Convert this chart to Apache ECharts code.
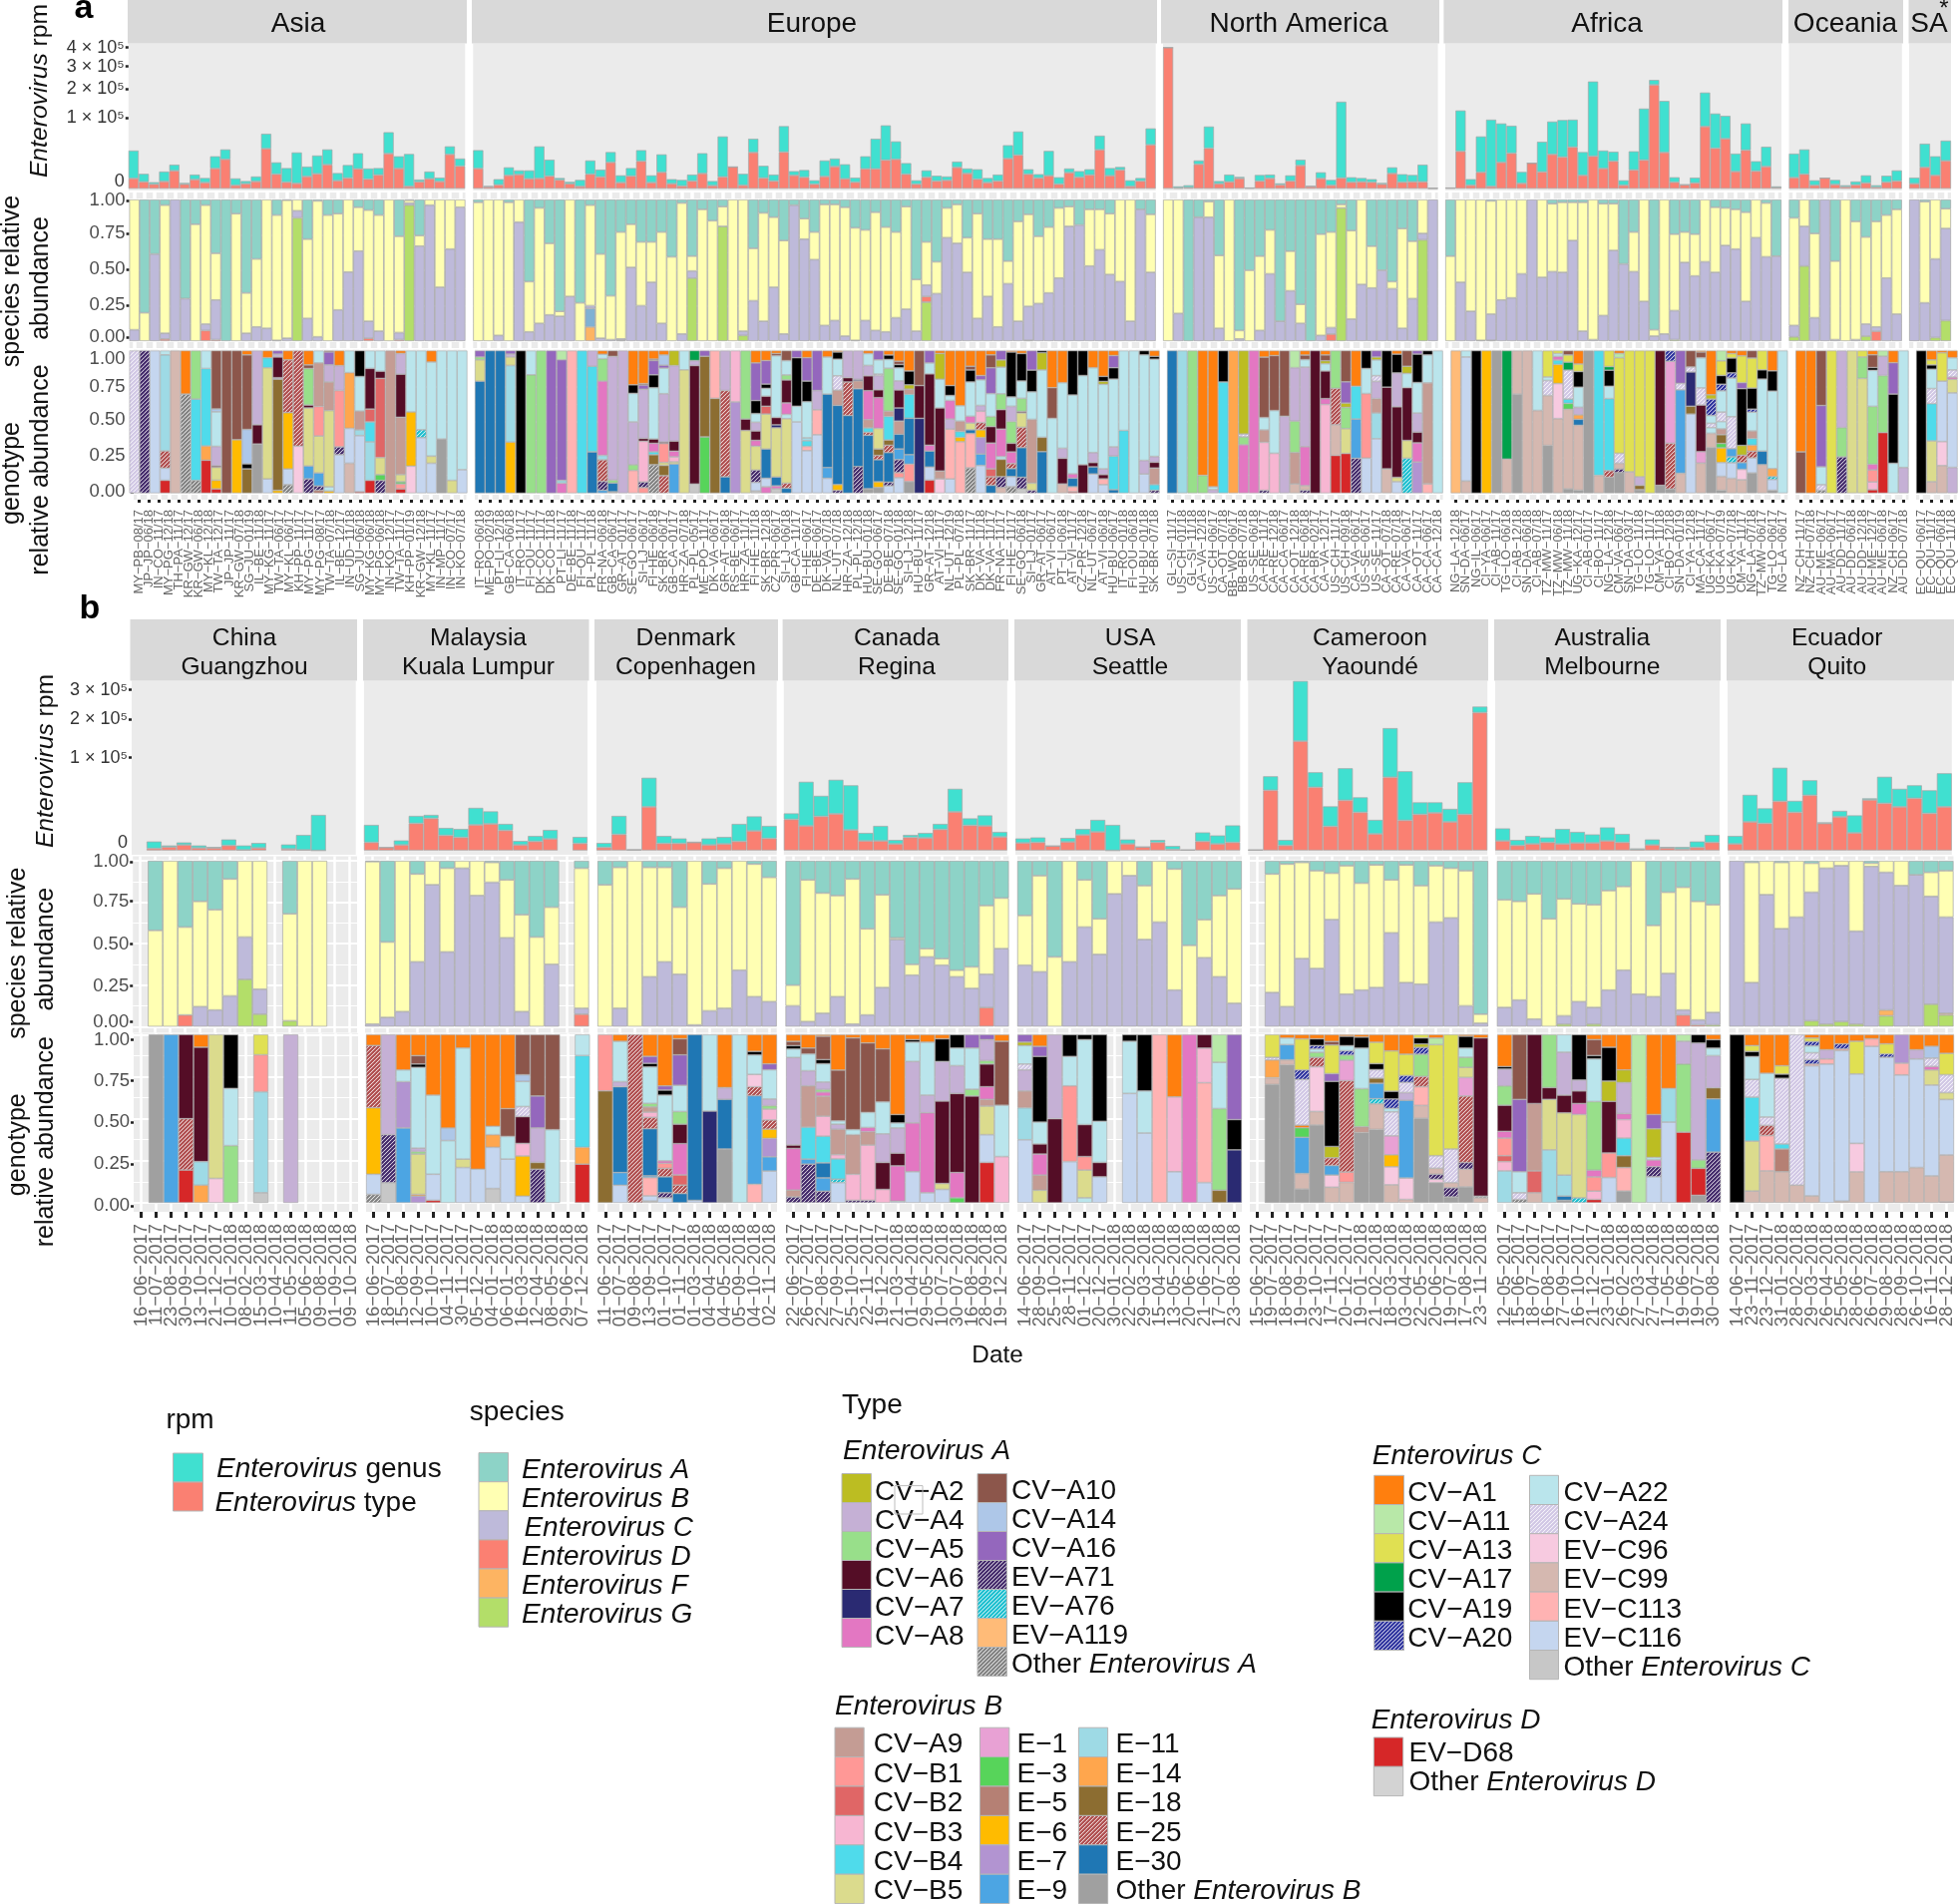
<!DOCTYPE html>
<html><head><meta charset="utf-8">
<style>html,body{margin:0;padding:0;background:#fff}#c{width:1963px;height:1909px}</style>
<script src="https://cdn.jsdelivr.net/npm/echarts@6/dist/echarts.min.js"></script>
</head><body><div id="c"></div>
<script>
/* ---------- rpm values: unit is rootRpm, 185 = 1e5 rpm on the square-root axis ---------- */
const asiaType=[27,18,12,19,47,12,24,16,53,77,9,13,19,105,38,17,14,32,39,63,21,28,52,25,36,92,53,6,18,26,19,90,59];
const asiaGenus=[73,21,5,26,16,3,13,12,32,26,18,7,13,39,31,37,81,26,48,40,20,34,41,28,18,56,32,85,6,19,10,21,20];
const europeType=[53,5,10,35,37,26,27,33,23,13,6,38,31,69,16,33,72,16,43,13,7,20,40,8,31,57,9,95,28,20,96,35,30,12,32,58,26,17,52,52,75,77,38,12,30,20,22,56,40,25,16,20,79,88,38,28,34,12,42,30,36,102,34,49,6,20,115];
const europeGenus=[48,2,15,21,11,22,84,43,5,5,17,36,19,27,19,21,29,19,47,12,16,17,53,12,106,0,30,36,32,17,68,11,19,10,42,21,38,12,33,79,91,47,29,10,18,14,10,15,13,26,12,17,35,62,13,10,65,18,11,16,15,37,20,8,16,8,43];
const naType=[370,2,3,64,106,13,18,27,2,20,27,10,20,61,6,27,9,28,17,18,17,12,40,17,18,18,1];
const naGenus=[0,4,6,10,57,7,19,4,0,16,10,4,15,15,1,16,14,200,13,10,8,3,16,21,18,45,1];
const africaType=[2,98,9,43,6,69,93,14,67,44,90,83,109,35,85,53,72,9,49,75,272,95,17,10,15,163,106,131,45,101,46,58,3];
const africaGenus=[0,107,16,94,175,102,72,30,0,79,86,97,72,61,196,47,25,13,49,135,13,135,13,1,14,89,91,60,47,70,26,52,3];
const oceaniaType=[29,38,9,28,11,5,10,15,4,17,20];
const oceaniaGenus=[63,65,13,0,12,4,9,20,5,17,28];
const saType=[13,56,35,73];
const saGenus=[16,62,50,53];
const chinaType=[null,4,7,11,5,5,10,1,5,null,3,1,0,null,null];
const chinaGenus=[null,14,3,5,5,2,12,9,10,null,9,30,71,null,null];
const malaysiaType=[16,6,11,54,64,30,26,51,53,40,11,18,23,null,14];
const malaysiaGenus=[35,0,9,15,7,15,17,34,25,13,8,11,18,null,13];
const denmarkType=[6,32,1,87,14,14,16,11,13,18,39,24];
const denmarkGenus=[9,37,1,58,15,10,1,13,14,35,29,25];
const canadaType=[62,49,68,73,41,19,19,13,26,25,42,77,50,49,27];
const canadaGenus=[12,88,41,68,89,16,30,8,5,10,11,46,14,21,10];
const usaType=[15,16,9,17,31,37,0,13,7,16,2,1,18,13,16];
const usaGenus=[9,10,0,8,12,24,51,9,0,5,7,0,18,17,34];
const cameroonType=[1,120,10,218,126,48,100,76,33,146,60,72,75,57,72,275];
const cameroonGenus=[0,28,11,120,30,40,64,30,28,98,98,24,21,26,64,12];
const australiaType=[19,10,13,16,13,15,15,19,16,2,11,5,3,6,16];
const australiaGenus=[25,11,16,10,30,22,17,27,17,2,11,2,4,12,15];
const ecuadorType=[13,57,54,98,76,110,54,67,35,101,94,87,104,74,87];
const ecuadorGenus=[16,54,30,67,23,30,2,12,35,3,53,36,26,46,67];

/* ---------- species relative abundance ---------- */
const asiaA=[0,.8,.385,.04,0,.7,.175,.04,.38,1,.1,.66,.42,0,.11,.005,0,.28,.01,.11,.1,0,.055,.075,.11,0,.26,.005,.255,0,0,0,0];
const asiaB=[.92,.2,0,.905,0,0,.825,.84,.33,0,.9,.285,.48,.91,.885,.975,.08,.56,.96,.89,.68,.513,.31,.785,.82,1,.68,.02,.075,.04,.62,.35,.055];
const asiaC=[.08,0,.615,.04,1,.3,0,.045,.28,0,0,.055,.1,.09,.005,.02,.05,.16,.03,0,.22,.487,.635,.12,.07,0,.05,.015,.67,.96,.38,.65,.945];
const asiaExtra={D:{3:.015,7:.075,8:.01,23:.02,26:.01},G:{16:.87,27:.96}};
const europeA=[.02,0,0,.02,0,.58,.06,.31,.79,0,.73,.04,.385,.68,.23,.175,.3,.3,.23,.405,.025,.4,.07,.15,.05,0,0,.345,.095,.125,.29,.04,.135,.23,.035,.035,.055,.2,.215,.09,.195,.23,.05,.565,.3,.44,.06,.035,.27,.1,.28,.28,.435,.155,.105,.26,.195,.06,.05,.18,.07,.07,.1,0,0,.07,.105];
const europeB=[.98,1,.96,.98,.16,.355,.815,.505,.035,.685,.27,.71,.595,.31,.755,.305,.45,.285,.645,.595,.925,.105,.93,.85,.14,1,.93,.37,.765,.495,.66,0,.145,.195,.855,.82,.91,.795,.64,.835,.74,.605,.725,.365,.305,.225,.21,.275,.245,.74,.405,.62,.16,.705,.65,.475,.465,.495,.14,0,.4,.285,.43,.58,.86,0,.41];
const europeC=[0,0,.04,0,.84,.065,.125,.185,.175,.315,0,.02,.02,.01,.01,.52,.25,.415,.125,0,.05,.05,0,0,0,0,.03,.285,.14,.38,.05,.96,.72,.575,.11,.145,.035,.005,.145,.075,.065,.165,.225,.07,.08,.335,.73,.69,.485,.16,.315,.1,.405,.14,.24,.265,.34,.445,.81,.82,.53,.645,.47,.42,.14,.93,.485];
const europeExtra={E:{11:.13},F:{11:.1,54:.005},D:{44:.04},G:{14:.005,21:.445,24:.81,26:.04,44:.275}};
const naA=[0,0,1,.125,.015,.395,0,.925,.5,.4,.215,.86,.365,.74,1,.245,.23,.035,.22,0,.33,.5,.58,.205,.295,0,0];
const naB=[1,.805,0,0,.11,.515,1,.06,.5,.525,.31,0,.28,.135,0,.715,.675,.025,.625,.6,.295,0,.05,.705,.405,.24,0];
const naC=[0,.195,0,.875,.875,.09,0,.015,0,.075,.475,.14,.355,.125,0,.04,.045,0,.155,.4,.375,.5,.37,.09,.3,.045,1];
const naExtra={D:{16:.05},G:{17:.94,25:.715}};
const africaA=[.4,0,0,0,.01,0,0,0,0,0,.03,.02,.02,.02,0,.03,.03,.455,.23,0,.92,0,.245,.23,.245,0,.055,.06,.07,.09,0,.025,.4];
const africaB=[.6,.585,.79,.995,.8,.71,.695,.525,0,.55,.48,.495,.27,.91,.99,.79,.33,0,.28,.72,.045,.95,.54,.215,.295,.44,.46,.265,.28,.63,.27,.38,0];
const africaC=[0,.415,.21,.005,.185,.29,.305,.475,1,.45,.49,.485,.71,.07,.01,.18,.64,.545,.49,.28,.035,.05,.205,.555,.46,.56,.485,.675,.65,.28,.73,.595,.6];
const africaExtra={G:{4:.005,22:.01}};
const oceaniaA=[.13,0,.24,0,.435,0,.155,.265,.155,.11,.07];
const oceaniaB=[.76,.19,.595,0,.555,1,.835,.615,.745,.445,.74];
const oceaniaC=[.08,.28,.165,1,.01,0,.01,.085,.03,.445,.19];
const oceaniaExtra={D:{8:.07},G:{0:.03,1:.53,7:.035}};
const saA=[0,.015,0,.065];
const saB=[0,.715,.42,.14];
const saC=[1,.27,.555,.65];
const saExtra={G:{2:.025,3:.145}};
const chinaA=[null,.42,0,.4,.245,.295,.11,0,0,null,.32,0,0,null,null];
const chinaB=[null,.58,1,.53,.635,.605,.705,.46,.775,null,.645,1,1,null,null];
const chinaC=[null,0,0,0,.12,.1,.185,.255,.15,null,0,0,0,null,null];
const chinaExtra={D:{3:.07},G:{7:.285,8:.075,10:.035}};
const malaysiaA=[.005,.49,0,.08,0,.045,0,0,.01,.115,.325,.46,.28,null,.045];
const malaysiaB=[.98,.455,.91,.53,.145,.505,.045,.21,.12,.35,.585,.54,.345,null,.845];
const malaysiaC=[.015,.055,.09,.39,.855,.45,.955,.79,.87,.535,.09,0,.375,null,.035];
const malaysiaExtra={D:{14:.075}};
const denmarkA=[.145,.04,0,.04,.04,.28,0,.14,.045,0,.02,.1];
const denmarkB=[.855,.85,1,.66,.57,.405,.99,.765,.845,.66,.8,.75];
const denmarkC=[0,.11,0,.3,.39,.315,.01,.095,.11,.34,.18,.15];
const canadaA=[.75,.115,.195,.21,.11,.41,.205,.465,.625,.53,.59,.66,.64,.27,.225];
const canadaB=[.125,.855,.725,.61,.875,.52,.56,.01,.065,.05,.04,.04,.13,.415,.305];
const canadaC=[.125,.03,.08,.18,.015,.07,.235,.525,.31,.42,.37,.3,.23,.2,.47];
const canadaExtra={D:{13:.115}};
const usaA=[.33,.09,.58,0,.115,.35,0,0,.15,0,.05,.51,.355,.21,.17];
const usaB=[.3,.58,.42,.61,.285,.215,.2,.09,.325,.37,.73,.49,.23,.49,.69];
const usaC=[.37,.33,0,.39,.6,.435,.8,.91,.525,.63,.22,0,.415,.3,.14];
const cameroonA=[null,.08,.02,.01,.06,.075,.03,.135,.025,.115,.025,.15,.03,.045,.06,.925];
const cameroonB=[null,.715,.86,.58,.59,.28,.775,.645,.74,.32,.71,.595,.34,.3,.815,.055];
const cameroonC=[null,.205,.12,.41,.35,.645,.195,.22,.235,.565,.265,.255,.63,.655,.125,.02];
const australiaA=[.235,.245,.2,.35,.23,.26,.265,.18,.155,0,.39,.19,.16,.245,.265];
const australiaB=[.65,.595,.755,.65,.705,.59,.62,.6,.505,.805,.43,.49,.74,.715,.65];
const australiaC=[.115,.16,.045,0,.05,.15,.1,.22,.34,.195,.18,.32,.03,.03,.075];
const australiaExtra={D:{12:.07,13:.01},G:{4:.015,6:.015,14:.01}};
const ecuadorA=[0,.01,0,.01,0,.015,0,0,0,.015,0,0,.085,.07,.06];
const ecuadorB=[0,.725,.205,.4,.34,.175,.045,.03,.425,.02,.07,.15,0,.145,.28];
const ecuadorC=[1,.265,.795,.59,.66,.775,.94,.94,.56,.965,.83,.85,.915,.65,.58];
const ecuadorExtra={F:{10:.035,14:.01},G:{5:.035,6:.015,7:.03,8:.015,10:.065,13:.135,14:.07}};

/* ---------- genotype relative abundance: per bar, types listed top to bottom ---------- */
const asiaGeno=['A24:1','71:1','C116:1','A22:.03 E11:.67 E25:.12 C116:.085 D68:.09','C99:1','A1:.305 OA:.695','A5:.34 B4:.57 OA:.09','A22:.125 B4:.54 E14:.1 D68:.23','A10:.405 A14:.02 A22:.24 A4:.135 A6:.01 B5:.09 E6:.06 D68:.03','A10:1','A10:.625 E6:.375','A1:.03 A10:.52 A14:.24 A19:.035 E18:.17','A4:.52 A6:.135 OB:.345','A1:.05 B4:.07 B5:.78 C116:.1','A16:.025 A4:.02 A6:.145 A4:.01 E18:.78 E6:.02','A1:.065 E25:.37 E6:.395 C116:.11 OA:.06','E25:.67 C96:.33','A1:.1 A10:.025 A5:.255 A6:.02 B5:.405 E9:.09 71:.1','A22:.085 A9:.3 B1:.205 B5:.255 E9:.09 71:.03 E5:.02','A10:.01 A16:.09 A4:.12 A9:.2 B5:.535 A22:.03 E6:.015','A1:.105 A4:.175 B1:.395 71:.055 C116:.27','A22:.155 E14:.39 C116:.245 C99:.21','A19:.18 A22:.24 A9:.13 E11:.04 C116:.39 D68:.01','A22:.125 A6:.285 B2:.09 B4:.14 E11:.27 D68:.09','A22:.145 A6:.05 B2:.555 B5:.12 E3:.04 71:.09','A9:1','A1:.02 A4:.145 A6:.3 A9:.4 B5:.05 E3:.015 B1:.035 D68:.03','A22:.43 E6:.38 C96:.19','A22:.555 76:.055 C116:.39','A1:.08 A22:.66 B5:.05 C116:.21','A22:.62 OB:.38','A22:.91 B5:.09','A22:.835 C116:.165'];
const europeGeno=['A16:.045 A5:.02 B5:.15 E30:.785','E30:1','E30:1','A16:.025 A4:.02 B5:.06 E11:.54 E6:.36','A19:1','A22:.17 A5:.83','A5:1','A16:1','A11:.065 A16:.845 E11:.02 A8:.07','C113:1','B4:1','A4:.11 B4:.6 E30:.29','A1:.025 A22:.03 A5:.15 A8:.5 E11:.03 E25:.145 71:.06 E9:.02','A10:.04 A4:.85 A5:.02 E30:.06 OB:.01','A4:1','A1:.24 A19:.06 A22:.2 A4:.3 A5:.04 C113:.16','A1:.235 A10:.01 A16:.03 A4:.35 A6:.02 B3:.29 71:.04 B1:.04','A1:.06 A10:.01 A16:.1 A19:.09 A22:.36 A6:.03 A8:.06 B4:.02 E18:.07 OA:.2',
'A1:.03 A14:.07 A16:.02 A22:.175 A4:.33 A6:.01 B1:.13 B5:.02 E18:.07 E25:.12','A2:.105 A4:.53 A6:.07 A8:.04 B3:.035 B5:.015 E9:.205','A22:.135 B5:.865','A17:.07 A4:.035 A6:.83 OC:.065','A16:.04 E18:.565 E3:.395','C113:.335 E18:.665','A4:.28 E25:.605 E30:.115','B3:.36 E7:.64','A5:.48 A6:.08 B5:.44','A1:.085 A16:.26 A19:.09 A22:.06 A4:.06 A6:.065 A8:.04 B5:.165 71:.085 C116:.06 OC:.015','A1:.07 A16:.165 A19:.03 A22:.055 A6:.07 B2:.055 B5:.245 E30:.205 C116:.06 A8:.045','A1:.02 A10:.015 A22:.42 A6:.05 A7:.02 B5:.335 E30:.06 A8:.02 OC:.03','A10:.07 A22:.1 A5:.035 A6:.16 A8:.08 A22:.03 B5:.45 E25:.035 E30:.035','A16:.05 A19:.34 A22:.11 C116:.5','A1:.05 A16:.165 A19:.145 A22:.255 E11:.02 B4:.04 C113:.03 C116:.3','A16:.28 A4:.135 C113:.175 C116:.41','A1:.045 A22:.26 E30:.515 E9:.075 C116:.105','A1:.01 A19:.05 A22:.115 A24:.1 A9:.105 E30:.55 E6:.04 71:.02','A4:.19 A6:.03 E25:.235 E30:.545','A4:.2 A7:.01 A9:.055 E30:.54 71:.185','A1:.02 A22:.08 A4:.07 A6:.1 A8:.195 A9:.055 B4:.03 E25:.02 E30:.36 OB:.03','A16:.065 A22:.1 A24:.01 A4:.1 A6:.055 A8:.215 B5:.145 E18:.045 E25:.03 E30:.155 E6:.04 OB:.04','A1:.03 A19:.03 A22:.06 A5:.29 A9:.035 B4:.16 E18:.035 E25:.05 E30:.2 71:.025 C116:.05','A1:.065 A10:.02 A19:.02 A22:.08 A4:.055 A6:.11 A7:.08 A9:.08 E30:.09 E9:.065 71:.08 B1:.03 C116:.095','A1:.14 A19:.095 A2:.03 A9:.035 B4:.165 E30:.25 E9:.065 B1:.12 OB:.08','A10:.245 A6:.23 A7:.525','A16:.085 A22:.075 A6:.49 A8:.04 E30:.11 C116:.09 D68:.09','A1:.02 A2:.18 A22:.2 A6:.44 A9:.055 C96:.1','A1:.245 A19:.07 A22:.035 A8:.13 A4:.07 C113:.35 C116:.1','A1:.375 A22:.105 A9:.07 B4:.04 E6:.03 C113:.35','A1:.105 A10:.025 A19:.08 A22:.23 A8:.045 B5:.045 E30:.025 C113:.23 OA:.17','A1:.175 A16:.03 A22:.18 A4:.04 B3:.08 E25:.05 E6:.055 E7:.115 E9:.08 C116:.195','A1:.03 A10:.09 A16:.18 A22:.16 A5:.07 A6:.115 A8:.18 B2:.055 E25:.06 E30:.055','A16:.065 A2:.05 A22:.185 A5:.11 A6:.135 A8:.19 A22:.02 E18:.12 71:.075 C99:.04','A1:.01 A19:.31 A22:.065 A4:.105 A5:.15 A6:.06 A8:.08 E25:.035 E30:.055 C116:.07 OA:.045','A1:.02 A19:.19 A22:.12 A5:.09 A6:.01 B5:.1 E25:.14 E30:.205 71:.08 OC:.03','A16:.135 A19:.15 A22:.19 A9:.44 B5:.05 71:.02','A19:.015 A2:.12 A22:.47 E18:.1 E30:.29','A1:.26 A10:.215 A22:.525','A1:.225 A22:.46 A4:.07 A6:.18 C99:.065','A19:.31 A22:.55 A8:.03 E30:.06 C113:.035 D68:.01','A19:.175 A22:.625 A6:.2','A1:.12 A22:.595 A4:.07 A6:.03 E30:.05 C116:.135','A1:.18 A19:.035 A2:.02 A22:.59 A4:.04 A6:.03 C113:.04 C116:.06','A1:.035 A16:.085 A19:.08 A22:.475 A4:.065 B4:.235 E30:.025','A22:.56 B4:.44','A22:1','A19:.03 A22:.74 A4:.095 C116:.135','A1:.04 A19:.02 A22:.675 A4:.04 A6:.04 A9:.115 B4:.04 71:.02'];
const naGeno=['E30:1','E11:1','A5:1','A1:.875 A5:.125','A1:.955 A22:.02 A4:.025','A19:.22 B4:.78','E14:1','A2:.585 A24:.02 A5:.055 A8:.34','A8:1','A1:.045 A10:.415 A22:.085 A9:.085 B3:.33 71:.02','A1:.035 A10:.385 A22:.3 B3:.28','A10:.46 A4:.54','A11:.12 A4:.375 A5:.22 A9:.22 C99:.065','A1:.03 A10:.03 A22:.05 A4:.53 A8:.26 C99:.03 71:.02','A6:1','A1:.03 A10:.04 A2:.02 A22:.05 A6:.19 A8:.04 B3:.61','A5:.265 E25:.255 C99:.215 D68:.265','A10:.22 A16:.15 A2:.03 A5:.15 B5:.175 D68:.28','A1:.25 B4:.23 E9:.275 71:.245','A19:.125 A22:.175 B1:.45 C116:.245','A16:.045 A2:.02 A22:.11 A24:.04 A4:.12 A9:.1 E11:.18 C116:.38','A19:.255 A6:.57 C99:.17','A1:.025 A19:.13 A4:.235 A6:.49 B5:.03 C116:.08','A10:.11 A2:.05 A22:.1 A6:.37 B5:.125 76:.245','A16:.025 A19:.2 A22:.215 A4:.135 A6:.075 A8:.135 E7:.22','A19:.03 A22:.195 A9:.705 C113:.065','A22:1'];
const africaGeno=['119:1','A22:.045 C116:.87 C99:.085','A19:1','E6:1','OB:1','A17:.76 C99:.24','C99:.305 OB:.695','C99:1','A22:.42 C99:.58','A13:.185 A22:.025 A24:.105 C99:.35 OB:.335','A13:.02 A22:.02 A8:.025 B4:.03 E6:.13 C96:.24 C99:.51','A10:.03 A13:.05 A17:.055 A24:.2 B4:.03 E3:.04 C99:.55 OB:.03','A1:.09 A13:.05 A19:.105 A22:.135 A4:.05 E14:.03 E30:.04 C99:.435 OB:.02','OB:1','B4:.875 C99:.125','A13:.11 A17:.025 A19:.11 A22:.085 B4:.495 E25:.045 OB:.11','A1:.02 A11:.03 A13:.67 A24:.07 C99:.04 71:.025 OB:.145','A13:.85 C99:.15','A13:.885 A4:.06 E18:.03 OB:.025','A13:1','A6:.945 OB:.055','A20:.075 E1:.575 E25:.32 OB:.03','A16:.23 A24:.045 E9:.585 C99:.14','A10:.115 A24:.035 A7:.24 E18:.055 C116:.555','A1:.01 A10:.04 A22:.21 A24:.12 A6:.325 E1:.08 C99:.21','A1:.31 A2:.03 A20:.115 A22:.055 A24:.03 A22:.04 C99:.1 OB:.32','A11:.07 A13:.1 A19:.06 A20:.045 A22:.145 A24:.065 A22:.05 A9:.04 E18:.06 E3:.03 E6:.1 C116:.095 C99:.095 OB:.02','A1:.02 A13:.03 A19:.1 A20:.035 A22:.26 A24:.215 E9:.055 76:.04 C116:.105 C99:.1','A1:.035 A13:.18 A16:.04 A19:.38 A2:.065 E25:.05 E9:.045 C96:.07 C99:.09','A10:.05 A13:.2 A19:.14 A20:.02 A22:.125 A9:.05 B4:.045 E14:.04 E25:.045 C116:.1 OB:.135','A13:.135 A19:.065 A22:.505 E30:.095 C99:.2','A1:.14 A19:.14 A22:.535 E14:.055 76:.02 C116:.075 OB:.02','A22:1'];
const oceaniaGeno=['A1:.71 A10:.29','A1:1','A10:.385 A16:.43 A22:.125 A24:.04 OA:.02','A13:1','A4:.54 A5:.205 71:.255','B5:1','A13:.045 A5:.15 B5:.805','A1:.03 A10:.09 A19:.02 A22:.255 A5:.41 A8:.04 B1:.085 B3:.055 D68:.025','A11:.04 A4:.135 A5:.4 D68:.425','A1:.085 A16:.22 A19:.485 A22:.21','A22:.82 A4:.18'];
const saGeno=['A19:1','A1:.065 A13:.035 A19:.03 A22:.135 A24:.105 B4:.26 B5:.285 C99:.08','A1:.015 A13:.195 C116:.415 C96:.165 C99:.19','A1:.05 A22:.085 A24:.05 A8:.015 B5:.095 C116:.52 A4:.18'];
const chinaGeno=['','OB:1','E9:1','A6:.5 E25:.305 D68:.195','A1:.075 A6:.68 E11:.14 E14:.105','B5:.855 C96:.145','A19:.32 A22:.34 A5:.34','','A13:.12 B1:.22 E11:.6 OC:.06','','A4:1','','','',''];
const malaysiaGeno=['A1:.065 E25:.37 E6:.395 C116:.12 OA:.05','A4:.595 71:.285 OC:.12','A1:.21 A22:.07 E7:.275 E9:.445','A1:.125 A10:.05 A19:.02 A22:.48 A4:.02 A5:.015 B5:.24 E14:.01 E7:.04','A1:.36 A22:.47 C116:.155 D68:.015','A1:.555 A14:.075 A22:.37','A1:.08 A22:.66 B5:.05 C116:.21','A1:.8 C116:.2','A1:.545 A22:.05 E14:.075 C116:.245 OC:.085','A1:.44 A10:.165 A22:.135 C116:.26','A10:.24 A14:.04 A22:.15 A24:.06 A6:.16 B3:.075 E6:.24 C116:.04','A10:.365 A16:.19 A4:.205 E18:.04 71:.2','A10:.565 A22:.435','','A22:.125 B4:.545 E14:.1 D68:.23'];
const denmarkGeno=['B1:.335 E18:.665','A1:.04 A22:.24 A4:.03 E30:.51 E9:.075 C116:.105','E25:1','A1:.125 A16:.04 A19:.02 A22:.21 A5:.02 A9:.03 B3:.03 E25:.065 E30:.27 E9:.01 C113:.105 C116:.03 OC:.01','A1:.305 A16:.025 A19:.03 A22:.39 A8:.015 B1:.03 E25:.05 E30:.095 71:.03 C116:.03','A1:.025 A10:.095 A16:.18 A22:.155 A5:.075 A6:.115 A8:.185 B2:.06 E25:.05 E30:.055','E30:.985 C116:.015','A22:.455 A7:.545','A1:.315 A4:.07 E30:.295 OB:.32','A22:1','A1:.095 A19:.02 A22:.11 C96:.07 E25:.05 E9:.5 C113:.105','A1:.175 A16:.035 A22:.175 A4:.04 A5:.02 B3:.065 E25:.055 E6:.055 E7:.11 E9:.085 C116:.19'];
const canadaGeno=['A1:.04 A10:.025 A19:.02 A22:.05 A4:.515 A6:.02 A8:.245 A9:.04 71:.035','A1:.08 A10:.035 A22:.1 A4:.09 A9:.245 B4:.19 E9:.03 71:.23','A1:.01 A10:.14 A19:.025 A22:.11 A4:.045 A5:.015 A8:.025 A9:.12 B3:.12 B4:.16 E30:.09 E9:.08 71:.07','A1:.21 A10:.3 A22:.02 A4:.03 A9:.15 B3:.025 B4:.12 76:.02 C116:.12','A1:.02 A10:.545 A22:.03 A9:.235 B3:.155 71:.015','A1:.05 A10:.415 A22:.09 A8:.025 A9:.08 B3:.33 71:.015','A1:.085 A10:.315 A22:.19 A4:.17 A6:.16 B3:.08','A1:.475 A19:.05 A22:.03 A4:.15 A6:.075 A8:.21 C116:.01','A1:.03 A19:.015 A22:.115 A4:.365 A8:.29 C116:.185','A1:.045 A22:.315 A4:.105 A8:.475 C116:.06','A1:.025 A19:.135 A4:.235 A6:.49 B5:.035 C116:.08','A19:.08 A22:.105 A4:.165 A6:.47 A8:.15 E3:.03','A16:.08 A22:.245 A5:.04 A6:.635','A16:.03 A4:.125 A5:.02 A6:.135 A8:.075 A9:.04 B5:.17 C116:.165 D68:.24','A1:.04 A10:.38 A22:.305 B3:.275'];
const usaGeno=['A16:.045 A2:.02 A22:.11 A24:.035 A4:.125 A9:.1 E11:.19 C116:.375','A1:.07 A16:.06 A19:.39 A22:.13 A6:.06 A8:.125 A9:.09 B5:.075','A4:.5 A6:.5','A19:.13 A22:.175 B1:.45 C116:.245','A19:.03 A22:.505 A6:.19 B1:.08 B5:.165 A22:.03','A19:.515 A22:.245 A6:.085 C116:.155','','A19:.04 A22:.31 C116:.65','A19:.335 A22:.25 C116:.415','C113:1','A1:.37 B3:.445 C116:.185','A8:1','A6:.08 B3:.205 C113:.59 C116:.12','A11:.165 A22:.275 A5:.485 E18:.075','A16:.505 A19:.18 A7:.315'];
const cameroonGeno=['','A13:.135 A24:.015 E14:.105 C99:.04 OB:.7','A1:.02 A22:.04 E9:.09 C99:.03 OB:.82','A1:.025 A13:.18 A20:.055 A24:.265 A1:.015 E3:.055 E9:.21 C99:.09 OB:.08','A1:.025 A19:.04 A20:.02 A22:.02 A5:.03 E25:.055 C96:.265 C99:.08 OB:.46','A1:.04 A10:.02 A13:.165 A16:.045 A19:.375 A2:.065 E25:.045 E9:.055 C96:.07 C99:.09','A1:.01 A19:.055 A22:.03 A20:.025 A5:.03 E1:.12 E25:.535 B1:.06 C99:.12','A1:.015 A19:.065 A22:.24 A5:.225 A9:.035 OB:.415','A1:.045 A13:.125 A19:.035 A24:.05 E18:.03 E9:.09 76:.03 C99:.15 OB:.43','A1:.095 A13:.235 A19:.045 A20:.055 A22:.02 A24:.14 E1:.11 E6:.07 C96:.105 C99:.105','A1:.115 A13:.125 A20:.04 A24:.06 A4:.045 E9:.455 C96:.125 C99:.02','A13:.02 A19:.035 A2:.02 A20:.04 A5:.13 E25:.06 C113:.11 C99:.075 OB:.495','A1:.02 A11:.04 A13:.66 A24:.075 C99:.035 71:.03 C96:.02 OB:.12','A13:.68 A24:.2 C99:.03 71:.055 OB:.035','A1:.01 A19:.07 A22:.055 A5:.06 B5:.06 E1:.11 E25:.395 71:.04 C99:.105 OB:.095','A1:.02 A6:.94 OA:.01 C99:.03'];
const australiaGeno=['A1:.19 A19:.015 A4:.1 A5:.115 A6:.155 A8:.04 B1:.105 B2:.035 B3:.055 E11:.19','A10:.385 A16:.43 A22:.125 A24:.04 OA:.02','A6:.41 A9:.4 B2:.13 C99:.06','A5:.315 A6:.07 B5:.3 E11:.315','A22:.105 A4:.255 A6:.105 B5:.37 E11:.125 E30:.025 OB:.015','A19:.27 A4:.065 A6:.075 A8:.065 B5:.495 76:.03','A1:.03 A10:.095 A19:.02 A22:.255 A5:.41 A8:.04 B1:.085 B3:.05 D68:.02','A1:.075 A19:.2 A2:.12 A6:.305 B1:.145 C116:.15','A1:.21 A2:.075 A4:.185 A8:.035 B3:.11 B4:.105 E18:.07 C113:.14 OB:.07','A11:1','A1:.475 A16:.085 A2:.17 A22:.015 A8:.04 71:.06 C116:.155','A1:.32 E11:.2 C116:.48','A11:.04 A4:.135 A5:.405 D68:.42','A19:.05 A4:.695 A5:.05 D68:.16 OB:.045','A1:.03 A19:.05 A22:.045 A4:.19 E18:.065 E9:.315 71:.3'];
const ecuadorGeno=['A19:1','A1:.065 A13:.035 A19:.03 A22:.135 A24:.105 B4:.26 B5:.295 C99:.07','A1:.23 A22:.26 A24:.05 E25:.06 C113:.21 C99:.19','A1:.185 A13:.05 A19:.025 A24:.39 B4:.03 E5:.135 C99:.185','A24:.895 C99:.105','A1:.02 A13:.02 A20:.025 A22:.04 A24:.04 A20:.025 C113:.01 C116:.75 C99:.04','A1:.09 A4:.055 C113:.03 C116:.825','A1:.055 A20:.03 C113:.01 C116:.895 C99:.01','A1:.04 A13:.195 C116:.415 C96:.17 C99:.185','A1:.025 C113:.045 C116:.93','A1:.055 A13:.06 A20:.02 C116:.68 C99:.185','E7:.17 C113:.07 C116:.575 C99:.185','A1:.09 A4:.055 C116:.645 C99:.21','A1:.07 A14:.07 A24:.05 A8:.02 B5:.09 C116:.54 C99:.16','A1:.11 A13:.125 A24:.105 B5:.04 C116:.325 C99:.275 D68:.005'];

/* ---------- tick labels ---------- */
const asiaLabels=['MY-PB-08/17','JP-JP-06/18','IN-CO-11/17','MY-PG-12/18','TH-PA-11/17','KR-GW-12/17','KR-GW-06/18','MY-KL-12/18','TW-TA-12/17','JP-JP-11/17','KR-GW-07/18','SG-JU-01/19','IL-BE-11/18','MY-KG-11/17','TW-TA-06/17','MY-KL-06/17','KH-PP-11/17','MY-PG-11/17','MY-PG-08/17','TW-TA-07/18','IL-BE-12/17','IN-UD-11/18','SG-JU-06/18','MY-KG-06/18','MY-PG-06/18','IN-KO-12/17','TW-TA-11/17','KH-PP-01/19','KR-GW-12/18','MY-KL-11/17','IN-MP-11/17','IN-CO-07/17','IN-KO-07/18'];
const europeLabels=['IT-RO-06/18','ME-PO-02/19','PT-LI-12/18','GB-CA-06/18','IT-RO-11/17','FI-OU-11/17','DK-CO-11/17','DK-CO-11/18','PT-LI-11/17','DE-BE-11/18','FI-OU-11/17','PL-PL-11/18','FR-NA-06/18','GB-CA-06/17','GR-AT-01/17','SE-GO-06/17','SI-LJ-06/17','FI-HE-06/18','SK-BR-06/17','GB-CA-01/17','HR-ZA-07/18','PL-PL-05/17','ME-PO-11/17','DK-VA-06/17','GR-AT-06/18','RS-BE-06/17','HR-ZA-11/17','FI-HE-11/18','SK-BR-12/18','CZ-PR-06/17','SI-LJ-06/18','GB-CA-11/17','FI-HE-06/17','DE-BE-06/17','DK-VA-07/18','NL-UT-07/18','HR-ZA-12/18','PL-PL-12/18','HU-BU-01/18','SE-GO-06/17','DE-BE-07/18','SE-GO-01/18','SI-LJ-12/18','HU-BU-11/17','GR-AT-12/18','AT-VI-11/17','NL-UT-12/19','PL-PL-07/18','SK-BR-11/17','DK-VA-11/18','DK-VA-11/17','FR-NA-11/17','FI-HE-11/17','SE-GO-06/18','SI-LJ-01/17','GR-AT-06/17','AT-VI-06/17','PT-LI-06/18','AT-VI-11/17','CZ-PR-12/18','NL-UT-06/17','AT-VI-06/18','HU-BU-06/17','IT-RO-01/18','FI-OU-06/18','HU-BU-01/18','SK-BR-07/18'];
const naLabels=['GL-SI-11/17','US-CH-01/18','GL-SI-11/18','CA-VA-12/18','US-CH-06/17','CA-OT-07/18','BB-WO-06/17','BB-BR-07/18','US-SE-06/18','CA-RE-11/17','CA-RE-12/18','CA-CA-06/17','CA-OT-12/18','CA-RE-06/18','CA-BR-02/17','CA-VA-12/17','US-CH-11/17','US-CH-09/18','CA-VA-06/17','US-SE-06/17','US-SE-11/17','CA-OT-07/18','CA-RE-07/18','CA-VA-06/17','CA-OT-11/17','CA-CA-06/17','CA-CA-12/18'];
const africaLabels=['NG-LA-12/18','SN-DA-06/17','NG-IL-06/17','CI-YA-06/17','CI-AB-11/17','TG-LO-06/18','CI-AB-12/18','SN-DA-06/18','CI-AB-07/18','TZ-MW-11/17','TZ-MW-06/18','TZ-MW-11/18','UG-KA-12/17','CI-AB-01/17','CI-BO-11/17','NG-LA-12/18','CM-VA-06/17','SN-DA-03/17','TG-LO-11/18','TG-LO-11/17','CM-YA-11/18','CI-BO-12/18','SN-DA-01/19','CI-YA-12/18','MA-CA-11/17','UG-KA-06/17','UG-KA-07/19','UG-KA-07/18','CM-YA-11/17','NG-LA-07/18','TZ-MW-06/17','TG-LO-06/17','NG-LA-06/17'];
const oceaniaLabels=['NZ-CH-11/17','NZ-CH-07/18','AU-ME-06/17','AU-MA-06/17','AU-DD-11/17','AU-DD-06/18','AU-DD-12/18','AU-ME-12/17','AU-ME-06/18','NZ-CH-06/17','AU-DD-07/18'];
const saLabels=['EC-QU-06/17','EC-QU-11/17','EC-QU-06/18','EC-QU-11/18'];
const chinaLabels=['16-06-2017','11-07-2017','23-08-2017','30-09-2017','13-10-2017','21-12-2017','10-01-2018','08-02-2018','15-03-2018','10-04-2018','11-05-2018','05-06-2018','09-08-2018','01-09-2018','09-10-2018'];
const malaysiaLabels=['16-06-2017','18-07-2017','15-08-2017','12-09-2017','10-10-2017','04-11-2017','30-11-2017','05-12-2017','04-01-2018','06-01-2018','16-03-2018','12-04-2018','08-05-2018','29-06-2018','07-12-2018'];
const denmarkLabels=['11-06-2017','01-07-2017','09-08-2017','13-09-2017','01-10-2017','01-11-2017','01-03-2018','04-04-2018','04-05-2018','05-09-2018','04-10-2018','02-11-2018'];
const canadaLabels=['22-06-2017','26-07-2017','22-08-2017','27-09-2017','25-10-2017','22-11-2017','19-12-2017','21-03-2018','01-04-2018','29-05-2018','10-07-2018','30-07-2018','16-08-2018','28-09-2018','19-12-2018'];
const usaLabels=['14-06-2017','28-09-2017','25-10-2017','28-11-2017','01-12-2017','20-12-2017','30-01-2018','22-02-2018','29-03-2018','15-04-2018','13-05-2018','20-06-2018','21-06-2018','17-07-2018','23-08-2018'];
const cameroonLabels=['15-06-2017','19-07-2017','18-08-2017','19-09-2017','23-10-2017','17-11-2017','20-12-2017','19-01-2018','21-02-2018','18-03-2018','03-04-2018','22-05-2018','20-06-2018','19-07-2018','17-08-2018','23-11-2018'];
const australiaLabels=['12-05-2017','15-06-2017','18-07-2017','16-08-2017','27-09-2017','16-10-2017','21-12-2017','23-01-2018','26-02-2018','27-03-2018','27-04-2018','17-05-2018','19-06-2018','19-07-2018','30-08-2018'];
const ecuadorLabels=['14-06-2017','23-11-2017','23-12-2017','31-01-2018','28-02-2018','29-03-2018','26-04-2018','25-05-2018','28-06-2018','26-07-2018','29-08-2018','28-09-2018','26-10-2018','16-11-2018','28-12-2018'];
const rpmTicksA=[0,1e5,2e5,3e5,4e5];
const rpmTicksB=[0,1e5,2e5,3e5];
const shareTicks=['1.00','0.75','0.50','0.25','0.00'];

/* ---------- colours ---------- */
const speciesColor={A:'#8dd3c7',B:'#ffffb3',C:'#bebada',D:'#fb8072',E:'#80b1d3',F:'#fdb462',G:'#b3de69'};
const rpmColor={genus:'#40e0d0',type:'#fa8072'};
function hatch(line,back){
  const s=8,c=document.createElement('canvas');c.width=s;c.height=s;
  const g=c.getContext('2d');g.fillStyle=back;g.fillRect(0,0,s,s);
  g.strokeStyle=line;g.lineWidth=2.1;
  for(let k=-s;k<=2*s;k+=4){g.beginPath();g.moveTo(k,s+1);g.lineTo(k+s+2,-1);g.stroke();}
  return {image:c,repeat:'repeat'};
}
const typeColor={A2:'#bcbd22',A4:'#c5b0d5',A5:'#98df8a',A6:'#540d26',A7:'#2a2a72',A8:'#e377c2',A10:'#8c564b',A14:'#aec7e8',A16:'#9467bd',
 '71':hatch('#3f2567','#ffffff'),'76':hatch('#17becf','#ffffff'),'119':'#ffbb78',OA:hatch('#7f7f7f','#ffffff'),
 A9:'#c49c94',B1:'#ff9896',B2:'#e06666',B3:'#f7b6d2',B4:'#4fdbeb',B5:'#dbdb8d',E1:'#e8a1d4',E3:'#57d45a',E5:'#b58074',E6:'#ffbb00',E7:'#b294d1',E9:'#4ca5e3',E11:'#9edae5',E14:'#ffa64d',E18:'#8c6d31',E25:hatch('#ad494a','#ffffff'),E30:'#1f77b4',OB:'#a0a0a0',
 A1:'#ff7f0e',A11:'#b8e8a8',A13:'#e0e052',A17:'#00a14b',A19:'#000000',A20:hatch('#2a2f9c','#ffffff'),A22:'#bae5ec',A24:hatch('#d0c6e4','#ffffff'),C96:'#f7cae0',C99:'#d5b8b0',C113:'#ffb3b3',C116:'#c5d6ef',OC:'#c7c7c7',D68:'#d62728',OD:'#d3d3d3'};

/* ---------- facets and layout ---------- */
const FONT='"Liberation Sans",Arial,sans-serif';
const ROOT_UNIT=185, BORDER='#a6a6a6';
const rootOf=r=>ROOT_UNIT*Math.sqrt(r/1e5);
const facetsA=[
 {name:'Asia',cx:299,sx:[128,468],r:[128.8,466.3],s:[129.6,466.5],g:[129.6,468.5],gb:[134,467.5],labels:asiaLabels,type:asiaType,genus:asiaGenus,A:asiaA,B:asiaB,C:asiaC,extra:asiaExtra,geno:asiaGeno},
 {name:'Europe',cx:814,sx:[473,1160],r:[474.3,1158.7],s:[474.3,1158.7],g:[476,1162.5],labels:europeLabels,type:europeType,genus:europeGenus,A:europeA,B:europeB,C:europeC,extra:europeExtra,geno:europeGeno},
 {name:'North America',cx:1302,sx:[1164,1443],r:[1166,1441.6],s:[1166,1441.6],g:[1170,1446.6],labels:naLabels,type:naType,genus:naGenus,A:naA,B:naB,C:naC,extra:naExtra,geno:naGeno},
 {name:'Africa',cx:1611,sx:[1447.4,1787],r:[1449,1786],s:[1449,1786],g:[1454.5,1792.3],labels:africaLabels,type:africaType,genus:africaGenus,A:africaA,B:africaB,C:africaC,extra:africaExtra,geno:africaGeno},
 {name:'Oceania',cx:1850,sx:[1793,1908],r:[1793.5,1906.8],s:[1793.5,1906.8],g:[1800.2,1913.5],labels:oceaniaLabels,type:oceaniaType,genus:oceaniaGenus,A:oceaniaA,B:oceaniaB,C:oceaniaC,extra:oceaniaExtra,geno:oceaniaGeno},
 {name:'SA',cx:1934,sx:[1913.5,1956],r:[1914,1956],s:[1914,1956],g:[1921,1962.6],labels:saLabels,type:saType,genus:saGenus,A:saA,B:saB,C:saC,extra:saExtra,geno:saGeno}];
const facetsB=[
 {name:'China\nGuangzhou',cx:245,sx:[130.5,358],r:[132,356.7],s:[133.2,358],g:[134,359],labels:chinaLabels,type:chinaType,genus:chinaGenus,A:chinaA,B:chinaB,C:chinaC,extra:chinaExtra,geno:chinaGeno},
 {name:'Malaysia\nKuala Lumpur',cx:479.5,sx:[364,590.5],r:[364.9,589],s:[366,590.5],g:[367,591.3],labels:malaysiaLabels,type:malaysiaType,genus:malaysiaGenus,A:malaysiaA,B:malaysiaB,C:malaysiaC,extra:malaysiaExtra,geno:malaysiaGeno},
 {name:'Denmark\nCopenhagen',cx:687.5,sx:[596,780],r:[598,778.7],s:[599,778.7],g:[599.3,779],labels:denmarkLabels,type:denmarkType,genus:denmarkGenus,A:denmarkA,B:denmarkB,C:denmarkC,extra:{},geno:denmarkGeno},
 {name:'Canada\nRegina',cx:899,sx:[784.6,1011],r:[785.8,1009.8],s:[787.5,1011.4],g:[788,1011.8],labels:canadaLabels,type:canadaType,genus:canadaGenus,A:canadaA,B:canadaB,C:canadaC,extra:canadaExtra,geno:canadaGeno},
 {name:'USA\nSeattle',cx:1133,sx:[1017,1244],r:[1018,1243.3],s:[1019.9,1245],g:[1020,1245],labels:usaLabels,type:usaType,genus:usaGenus,A:usaA,B:usaB,C:usaC,extra:{},geno:usaGeno},
 {name:'Cameroon\nYaoundé',cx:1373.5,sx:[1250.5,1492],r:[1251.3,1491.2],s:[1253,1492],g:[1253,1492],labels:cameroonLabels,type:cameroonType,genus:cameroonGenus,A:cameroonA,B:cameroonB,C:cameroonC,extra:{},geno:cameroonGeno},
 {name:'Australia\nMelbourne',cx:1606.3,sx:[1498,1725],r:[1499,1724],s:[1500.8,1724.8],g:[1501,1725.2],labels:australiaLabels,type:australiaType,genus:australiaGenus,A:australiaA,B:australiaB,C:australiaC,extra:australiaExtra,geno:australiaGeno},
 {name:'Ecuador\nQuito',cx:1841.7,sx:[1731,1959],r:[1732,1956.8],s:[1733.6,1958.5],g:[1734,1959],labels:ecuadorLabels,type:ecuadorType,genus:ecuadorGenus,A:ecuadorA,B:ecuadorB,C:ecuadorC,extra:ecuadorExtra,geno:ecuadorGeno}];
const layoutA={strip:[0,43.6],textY:24,rpm:{top:43.6,zero:189.2,bottom:191,max:380.5,zeroLabel:19.3},sp:{bgTop:193,top:200,bottom:342,bgBottom:349,tickY:[201,234.2,270,306,338]},ge:{bgTop:350.5,top:351.5,bottom:494.5,bgBottom:501,tickY:[359.7,388.4,421,457.3,492.9]},
 ticks:rpmTicksA,labelSize:13,labelMargin:10,tickLen:3,stripFont:28,vLine:3.5,axisX:129};
const layoutB={strip:[621,682.5],textY:654.5,rpm:{top:682.5,zero:852.7,bottom:857,max:338.6,zeroLabel:15.3},sp:{bgTop:858.5,top:863,bottom:1029.3,bgBottom:1035.5,tickY:[864.4,903.6,946.6,988.5,1024.6]},ge:{bgTop:1036.2,top:1037.3,bottom:1206,bgBottom:1215,tickY:[1042.7,1083.5,1125,1167,1209]},
 ticks:rpmTicksB,labelSize:18.4,labelMargin:12,tickLen:6,stripFont:24.6,vLine:2.5,axisX:133};

const grids=[],xAxes=[],yAxes=[],series=[],gfx=[];
const dash=s=>s.replace(/-/g,'\u2212');
function shareAxis(first,top,bottom,tickY,i,extraMargin){
  if(!first)return {type:'value',gridIndex:i,min:0,max:1,show:false};
  const vals=tickY.map(y=>(bottom-y)/(bottom-top));
  const byKey={};vals.forEach((v,k)=>{byKey[v.toFixed(4)]=shareTicks[k];});
  return {type:'value',gridIndex:i,min:0,max:1,axisLine:{show:false},splitLine:{show:false},
    axisTick:{show:true,customValues:vals,length:3,lineStyle:{color:'#222',width:2.5}},
    axisLabel:{show:true,customValues:vals,margin:4+(extraMargin||0),color:'#4d4d4d',fontSize:18.5,fontFamily:FONT,formatter:v=>byKey[v.toFixed(4)]}};
}
function bgPanel(x,top,bottom,labels,vLine,axisCfg,yAxisCfg){
  const i=grids.length;
  grids.push({left:x[0],width:x[1]-x[0],top:top,height:bottom-top,show:true,backgroundColor:'#ebebeb',borderWidth:0});
  xAxes.push(Object.assign({type:'category',gridIndex:i,data:labels.map(dash),axisLine:{show:false},axisTick:{show:false},axisLabel:{show:false},
    splitLine:{show:vLine>0,alignWithLabel:true,interval:0,lineStyle:{color:'#ffffff',width:vLine}}},axisCfg||{}));
  yAxes.push(yAxisCfg?yAxisCfg(i):{type:'value',gridIndex:i,min:0,max:1,show:false});
}
function fgPanel(x,top,bottom,n,min,max,yCfg){
  const i=grids.length;
  grids.push({left:x[0],width:x[1]-x[0],top:top,height:bottom-top});
  xAxes.push({type:'category',gridIndex:i,show:false,data:Array.from({length:n},(_,k)=>k)});
  yAxes.push(Object.assign({type:'value',gridIndex:i,min:min,max:max,axisLine:{show:false},splitLine:{show:false}},yCfg));
  return i;
}
const barBase=g=>({type:'bar',xAxisIndex:g,yAxisIndex:g,stack:'s'+g,barWidth:'100%',barGap:0,silent:true,itemStyle:{borderColor:BORDER,borderWidth:.7}});
const shareGrid={interval:.25,axisTick:{show:false},axisLabel:{show:false},
    splitLine:{show:true,lineStyle:{color:'#fff',width:2}},
    minorTick:{show:false,splitNumber:2},
    minorSplitLine:{show:true,lineStyle:{color:'#fff',width:1}}};
function buildRows(facets,L){
  facets.forEach((f,idx)=>{
    const first=idx===0,n=f.labels.length;
    // strip
    gfx.push({type:'rect',z:1,shape:{x:f.sx[0],y:L.strip[0],width:f.sx[1]-f.sx[0],height:L.strip[1]-L.strip[0]},style:{fill:'#d9d9d9'}});
    gfx.push({type:'text',z:2,x:f.cx,y:L.textY,style:{text:f.name,align:'center',verticalAlign:'middle',fontFamily:FONT,fontSize:L.stripFont,lineHeight:29,fill:'#111'}});
    // rpm
    bgPanel(f.r,L.rpm.top,L.rpm.bottom,f.labels,0);
    const tickVals=L.ticks.map(rootOf);
    const labelVals=tickVals.map((v,k)=>k===0?L.rpm.zeroLabel:v);
    const tickText={};L.ticks.forEach((t,k)=>{tickText[Math.round(labelVals[k])]=t===0?'0':(t/1e5)+' × 10\u2075';});
    const gr=fgPanel(f.r,L.rpm.top,L.rpm.zero,n,0,L.rpm.max,{
      axisTick:{show:first,customValues:tickVals.slice(1),length:3,lineStyle:{color:'#222',width:2.5}},
      axisLabel:{show:first,customValues:labelVals,margin:4,color:'#333',fontSize:18,fontFamily:FONT,formatter:v=>tickText[Math.round(v)]}});
    series.push(Object.assign(barBase(gr),{data:f.type.map(v=>v===null?null:v),itemStyle:{color:rpmColor.type,borderColor:BORDER,borderWidth:.7}}));
    series.push(Object.assign(barBase(gr),{data:f.genus.map(v=>v===null?null:v),itemStyle:{color:rpmColor.genus,borderColor:BORDER,borderWidth:.7}}));
    // species
    bgPanel(f.s,L.sp.bgTop,L.sp.bgBottom,f.labels,L.vLine,null,i=>shareAxis(first,L.sp.bgTop,L.sp.bgBottom,L.sp.tickY,i));
    const gs=fgPanel(f.s,L.sp.top,L.sp.bottom,n,0,1,shareGrid);
    const ex=f.extra||{};
    const totals=f.A.map((a,i)=>a===null?null:a+f.B[i]+f.C[i]+['D','E','F','G'].reduce((t,k)=>t+((ex[k]&&ex[k][i])||0),0));
    ['G','F','E','D','C','B','A'].forEach(k=>{
      const src=k==='A'?f.A:k==='B'?f.B:k==='C'?f.C:null;
      if(!src&&!ex[k])return;
      series.push(Object.assign(barBase(gs),{
        data:f.A.map((a,i)=>{
          if(a===null)return null;
          const v=src?src[i]:(ex[k][i]||0);
          return v>0?v/totals[i]:null;
        }),
        itemStyle:{color:speciesColor[k],borderColor:BORDER,borderWidth:.7}}));
    });
    // genotype: the background grid carries the tick labels, and sets their spacing
    const gb=f.gb||f.g;
    bgPanel(gb,L.ge.bgTop,L.ge.bgBottom,f.labels,L.vLine,{
      axisTick:{show:true,alignWithLabel:true,interval:0,length:L.tickLen,lineStyle:{color:'#222',width:3}},
      axisLabel:{show:true,interval:0,rotate:90,margin:L.labelMargin,color:'#666666',fontSize:L.labelSize,fontFamily:FONT,hideOverlap:false}},
      i=>shareAxis(first,L.ge.bgTop,L.ge.bgBottom,L.ge.tickY,i,gb[0]-f.g[0]));
    const gg=fgPanel(f.g,L.ge.top,L.ge.bottom,n,0,1,shareGrid);
    const parsed=f.geno.map(s=>{
      if(!s)return [];
      const segs=s.split(' ').map(t=>{const p=t.split(':');return {c:p[0],v:parseFloat(p[1])};});
      const sum=segs.reduce((a,b)=>a+b.v,0);
      return segs.map(x=>({c:x.c,v:x.v/sum})).reverse();
    });
    const slots=parsed.reduce((m,b)=>Math.max(m,b.length),0);
    for(let k=0;k<slots;k++){
      series.push(Object.assign(barBase(gg),{data:parsed.map(b=>b[k]?{value:b[k].v,itemStyle:{color:typeColor[b[k].c],borderColor:BORDER,borderWidth:.6}}:null)}));
    }
  });
}
buildRows(facetsA,layoutA);
buildRows(facetsB,layoutB);

/* ---------- text helpers ---------- */
function txt(x,y,parts,size,opt){
  opt=opt||{};
  const rich={i:{fontStyle:'italic',fontFamily:FONT,fontSize:size,fill:'#111'},n:{fontFamily:FONT,fontSize:size,fill:'#111'},b:{fontWeight:'bold',fontFamily:FONT,fontSize:size,fill:'#000'}};
  const text=parts.map(p=>'{'+p[0]+'|'+p[1]+'}').join('');
  gfx.push({type:'text',z:5,x:x,y:y,rotation:opt.rot?Math.PI/2:0,style:{text:text,rich:rich,align:opt.align||'left',verticalAlign:'middle',fontFamily:FONT,fontSize:size}});
}
function swatch(x,y,w,h,fill){gfx.push({type:'rect',z:4,shape:{x:x,y:y,width:w,height:h},style:{fill:fill,stroke:'#b5b5b5',lineWidth:1}});}
const rot={rot:true,align:'center'};
// panel letters and axis titles
txt(84,9,[['b','a']],34,{align:'center'});
txt(90,611,[['b','b']],34,{align:'center'});
txt(1949,9,[['n','*']],24,{align:'center'});
txt(40,91,[['i','Enterovirus'],['n',' rpm']],24.7,rot);
txt(12,282,[['n','species relative']],25,rot);
txt(41,279,[['n','abundance']],25,rot);
txt(12,474.5,[['n','genotype']],25,rot);
txt(41,471,[['n','relative abundance']],25,rot);
txt(46,763,[['i','Enterovirus'],['n',' rpm']],24.7,rot);
txt(17.7,955.7,[['n','species relative']],25,rot);
txt(46,951.7,[['n','abundance']],25,rot);
txt(17.7,1147.7,[['n','genotype']],25,rot);
txt(46,1144.7,[['n','relative abundance']],25,rot);
txt(1000,1359.6,[['n','Date']],24.3,{align:'center'});

/* ---------- legends ---------- */
const LS=28, LD=2;
const rpmLegend=[[['i','Enterovirus'],['n',' genus']],[['i','Enterovirus'],['n',' type']]];
const speciesLegend=['A','B','C','D','F','G'];
const typeALeft=[['A2','CV-A2'],['A4','CV-A4'],['A5','CV-A5'],['A6','CV-A6'],['A7','CV-A7'],['A8','CV-A8']];
const typeARight=[['A10','CV-A10'],['A14','CV-A14'],['A16','CV-A16'],['71','EV-A71'],['76','EV-A76'],['119','EV-A119'],['OA','Other A']];
const typeB1=[['A9','CV-A9'],['B1','CV-B1'],['B2','CV-B2'],['B3','CV-B3'],['B4','CV-B4'],['B5','CV-B5']];
const typeB2=[['E1','E-1'],['E3','E-3'],['E5','E-5'],['E6','E-6'],['E7','E-7'],['E9','E-9']];
const typeB3=[['E11','E-11'],['E14','E-14'],['E18','E-18'],['E25','E-25'],['E30','E-30'],['OB','Other B']];
const typeCLeft=[['A1','CV-A1'],['A11','CV-A11'],['A13','CV-A13'],['A17','CV-A17'],['A19','CV-A19'],['A20','CV-A20']];
const typeCRight=[['A22','CV-A22'],['A24','CV-A24'],['C96','EV-C96'],['C99','EV-C99'],['C113','EV-C113'],['C116','EV-C116'],['OC','Other C']];
const typeD=[['D68','EV-D68'],['OD','Other D']];
function labelParts(name){
  if(name.indexOf('Other')===0)return [['n','Other '],['i','Enterovirus '+name.slice(6)]];
  return [['n',dash(name)]];
}
function column(list,x,w,swY,h,labelX,labelY){
  list.forEach((it,i)=>{
    swatch(x,swY+i*h,w,h,typeColor[it[0]]);
    txt(labelX,labelY+LD+i*h,labelParts(it[1]),LS);
  });
}
txt(166.4,1424.5,[['n','rpm']],LS);
swatch(173.5,1457,30,29,rpmColor.genus);swatch(173.5,1486,30,29,rpmColor.type);
txt(217,1472.8,rpmLegend[0],LS);txt(215.4,1505.8+1,rpmLegend[1],LS);
txt(470.8,1415.4+1,[['n','species']],LS);
speciesLegend.forEach((k,i)=>{
  swatch(480,1456.6+i*29.1,29.5,29.1,speciesColor[k]);
  txt(k==='C'?525.4:523,1471.8+LD+i*29.1,[['i','Enterovirus '+k]],LS);
});
txt(844,1407.7+LD,[['n','Type']],LS);
txt(845,1453.5+LD,[['i','Enterovirus A']],LS);
column(typeALeft,844,29.4,1477.5,29,877,1494);
column(typeARight,980,29.4,1477.5,29,1014,1493);
gfx.push({type:'rect',z:6,shape:{x:897,y:1489.6,width:28,height:28.4},style:{fill:'none',stroke:'#bdbdbd',lineWidth:1}});
txt(837,1709.6+LD,[['i','Enterovirus B']],LS);
column(typeB1,837,29.2,1732.2,29.4,875.8,1747.7);
column(typeB2,982.5,29.3,1732.2,29.4,1019.5,1747.7);
column(typeB3,1081.4,29.2,1732.2,29.4,1118.5,1747.7);
txt(1375.8,1458.3+LD,[['i','Enterovirus C']],LS);
column(typeCLeft,1377.7,29.8,1479.3,29.2,1411.3,1495);
column(typeCRight,1533.5,29,1479.3,29.2,1567.5,1495);
txt(1374.8,1723.3+LD,[['i','Enterovirus D']],LS);
column(typeD,1377.3,29.4,1742,29.3,1412.5,1756.3);

const chart=echarts.init(document.getElementById('c'),null,{renderer:'canvas',width:1963,height:1909});
chart.setOption({animation:false,backgroundColor:'#ffffff',tooltip:{show:false},grid:grids,xAxis:xAxes,yAxis:yAxes,series:series,graphic:{elements:gfx}});
</script></body></html>
